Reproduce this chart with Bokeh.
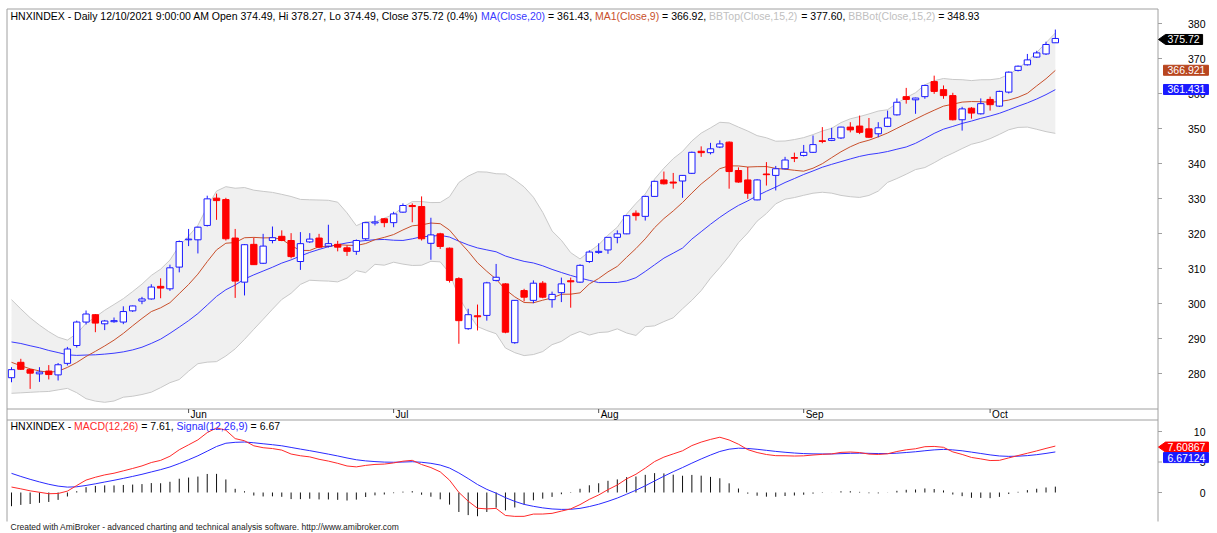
import pandas as pd
from bokeh.plotting import figure
from bokeh.models import Range1d
from bokeh.embed import file_html
from bokeh.resources import INLINE
from bokeh.core.properties import value

# ---------------- data ----------------
opens = [278.8, 283.2, 281.1, 279.9, 280.7, 279.6, 282.9, 288.0, 294.7, 296.8,
         294.2, 294.8, 294.7, 297.9, 300.7, 301.3, 304.9, 304.2, 310.4, 318.2,
         318.2, 322.3, 330.1, 329.7, 318.7, 306.1, 316.9, 311.5, 318.0, 319.2,
         318.0, 312.0, 317.6, 318.7, 316.4, 316.9, 315.9, 314.9, 318.5, 323.0,
         324.2, 323.1, 326.1, 328.0, 327.7, 317.2, 319.9, 315.8, 307.1, 292.8,
         296.5, 296.6, 306.6, 305.6, 288.8, 303.7, 300.9, 305.8, 301.1, 303.1,
         306.5, 306.1, 312.0, 314.6, 315.3, 318.9, 319.9, 325.8, 324.9, 330.6,
         335.3, 334.7, 335.0, 337.2, 343.5, 343.1, 344.7, 346.1, 338.0, 335.3,
         329.6, 337.0, 336.6, 338.5, 341.7, 342.3, 343.2, 346.5, 346.6, 347.3,
         350.4, 350.7, 349.9, 348.5, 350.6, 353.9, 359.1, 358.2, 359.1, 363.4,
         361.1, 359.4, 352.5, 355.8, 354.2, 358.3, 356.4, 360.4, 366.6, 368.2,
         370.4, 371.3, 374.49]
highs = [281.8, 284.2, 281.3, 281.8, 282.4, 283.0, 287.6, 295.1, 298.0, 297.0,
         295.3, 296.0, 299.2, 299.4, 301.9, 305.5, 307.2, 311.1, 318.0, 321.3,
         322.0, 330.8, 331.4, 330.2, 321.3, 317.0, 318.8, 319.9, 322.0, 320.9,
         320.1, 320.4, 320.1, 319.9, 322.5, 317.9, 316.6, 318.3, 323.3, 325.1,
         324.4, 326.2, 328.6, 328.6, 330.6, 324.5, 320.2, 316.0, 307.5, 298.5,
         299.7, 306.2, 311.3, 305.8, 301.0, 304.2, 306.6, 306.4, 303.4, 307.4,
         307.4, 311.2, 315.2, 317.2, 319.0, 320.9, 325.3, 326.6, 330.8, 335.1,
         337.7, 337.3, 336.7, 343.4, 344.9, 345.9, 346.6, 346.3, 338.9, 339.0,
         335.5, 340.4, 339.3, 341.9, 343.1, 345.3, 348.0, 350.4, 350.2, 350.5,
         351.8, 353.7, 353.0, 351.8, 355.1, 358.6, 361.6, 358.8, 362.5, 365.1,
         362.3, 360.2, 356.2, 356.1, 358.6, 359.1, 360.8, 366.3, 368.0, 371.3,
         372.2, 374.8, 378.27]
lows = [277.5, 281.0, 275.6, 277.6, 278.3, 278.0, 282.3, 287.4, 294.0, 291.8,
        292.4, 294.5, 294.1, 297.6, 299.8, 301.1, 301.5, 303.6, 308.9, 316.4,
        314.3, 322.0, 323.9, 318.0, 301.6, 302.3, 311.0, 311.3, 317.2, 317.8,
        312.9, 309.6, 317.3, 315.8, 316.0, 314.9, 313.6, 313.9, 318.0, 322.3,
        321.8, 321.8, 325.9, 323.2, 318.0, 312.5, 315.6, 306.0, 288.5, 292.5,
        292.3, 295.1, 306.3, 291.5, 288.5, 300.6, 300.1, 301.5, 298.8, 300.4,
        298.8, 305.9, 311.6, 314.2, 314.2, 317.2, 319.8, 323.7, 323.7, 330.5,
        334.0, 332.8, 330.2, 337.0, 341.9, 342.6, 344.4, 332.8, 334.5, 329.9,
        329.5, 333.7, 332.3, 338.3, 340.4, 342.0, 343.0, 345.8, 346.4, 347.0,
        348.9, 348.4, 347.3, 347.5, 350.4, 353.7, 357.1, 354.2, 358.5, 359.9,
        358.5, 352.3, 349.4, 352.8, 354.0, 355.1, 356.2, 360.0, 366.3, 368.0,
        370.2, 371.0, 374.49]
closes = [281.1, 281.2, 280.1, 280.4, 279.7, 282.5, 287.0, 294.7, 297.0, 294.4,
          295.0, 295.1, 297.7, 299.3, 301.3, 304.7, 304.4, 310.2, 317.7, 318.4,
          321.8, 329.9, 329.4, 318.5, 306.4, 316.8, 311.1, 316.4, 318.8, 318.0,
          313.4, 317.1, 318.4, 316.1, 317.1, 316.1, 314.9, 318.0, 323.1, 323.3,
          323.1, 325.6, 328.0, 327.7, 318.5, 319.6, 316.3, 306.6, 295.1, 296.8,
          296.2, 305.9, 307.5, 291.8, 300.9, 301.8, 305.8, 301.8, 302.6, 305.6,
          306.2, 310.9, 314.7, 314.9, 318.9, 319.9, 325.1, 325.1, 330.6, 334.9,
          334.2, 334.4, 336.6, 343.2, 343.1, 344.2, 345.6, 337.7, 334.7, 331.5,
          335.3, 336.8, 338.5, 341.0, 341.5, 343.2, 345.4, 346.3, 347.1, 350.4,
          349.6, 348.9, 347.5, 350.2, 353.0, 357.5, 358.3, 358.7, 362.3, 360.6,
          359.4, 352.5, 355.6, 354.4, 357.1, 356.8, 360.6, 366.1, 367.8, 369.6,
          371.6, 374.0, 375.72]
# sessions before the visible window (not drawn), estimated from where the
# MA / Bollinger / MACD lines start at the left edge of the chart
earlier_closes = [256, 258, 257, 260, 262, 261, 264, 266, 265, 268,
                  270, 270, 273, 275, 274, 277, 279, 279, 282, 284,
                  287, 290, 293, 292, 295, 294.5, 300, 298, 295, 293,
                  291, 290, 290, 288, 286, 283, 280, 277, 282, 281.7]

month_bars = [20, 42, 64, 86, 106]
month_labels = ["Jun", "Jul", "Aug", "Sep", "Oct"]
price_ticks = [280, 290, 300, 310, 320, 330, 340, 350, 360, 370, 380]
macd_ticks = [0, 5, 10]
price_tag_values = [375.72, 366.921, 361.431]
price_tag_texts = ["375.72", "366.921", "361.431"]
macd_tag_values = [7.60867, 6.67124]
macd_tag_texts = ["7.60867", "6.67124"]

price_header = [
    ("HNXINDEX - Daily 12/10/2021 9:00:00 AM Open 374.49, Hi 378.27, Lo 374.49, Close 375.72 (0.4%) ", "black"),
    ("MA(Close,20)", "ma20"), (" = 361.43, ", "black"),
    ("MA1(Close,9)", "ma9"), (" = 366.92, ", "black"),
    ("BBTop(Close,15,2)", "bb"), (" = 377.60, ", "black"),
    ("BBBot(Close,15,2)", "bb"), (" = 348.93", "black"),
]
macd_header = [
    ("HNXINDEX - ", "black"), ("MACD(12,26)", "macd"), (" = 7.61, ", "black"),
    ("Signal(12,26,9)", "sig"), (" = 6.67", "black"),
]
footer = "Created with AmiBroker - advanced charting and technical analysis software. http://www.amibroker.com"

# ---------------- indicators (AmiBroker definitions) ----------------
full = pd.Series(earlier_closes + closes, dtype=float)
n0 = len(earlier_closes)
ma20 = full.rolling(20).mean()
ma9 = full.rolling(9).mean()
m15 = full.rolling(15).mean()
sd15 = full.rolling(15).std(ddof=0)
bbt = m15 + 2 * sd15
bbb = m15 - 2 * sd15
ema12 = full.ewm(span=12, adjust=False).mean()
ema26 = full.ewm(span=26, adjust=False).mean()
macd = ema12 - ema26
sig = macd.ewm(span=9, adjust=False).mean()
hist = macd - sig

n = len(closes)
bars = list(range(1, n + 1))


def vis(s):
    return list(s.iloc[n0:].values)


# ---------------- styles / layout (pixel geometry of the AmiBroker window) ----------------
FONT = "Liberation Sans"
FS = "10.5px"
UP = "#1a1aff"
DOWN = "#ff0000"
COL = {"black": "#000000", "ma20": "#3a3aff", "ma9": "#c8502c", "bb": "#c0c0c0",
       "macd": "#ff2a2a", "sig": "#2a2aff"}
BAND_FILL = "#f0f0f0"
BAND_LINE = "#c8c8c8"
FRAME_C = "#a0a0a0"
W, H = 1217, 533
BAR_PX = 9.32      # pixels per session
BAR1_PX = 11.0     # page x of the first session
LEFT, AXIS = 6.5, 1157.5
TOP, STRIP_T, STRIP_B, BOTTOM = 8.5, 408.5, 419.5, 521.0


def bx(px):   # page x -> session number
    return 1 + (px - BAR1_PX) / BAR_PX


def py(y):    # page y -> price (380 at y=23, 3.5 px per point)
    return 380 - (y - 23) / 3.5


def ypx(v):   # price -> page y
    return 23 + (380 - v) * 3.5


def my(y):    # page y -> MACD value (0 at y=492, 6.1 px per unit)
    return (492 - y) / 6.1


def mpx(v):
    return 492 - v * 6.1


AW = {' ': 278, '-': 333, '/': 278, ':': 278, '.': 278, ',': 278, '(': 333, ')': 333,
      '%': 889, '=': 584, 'A': 667, 'B': 667, 'C': 722, 'D': 722, 'E': 667, 'H': 722,
      'I': 278, 'L': 556, 'M': 833, 'N': 722, 'O': 778, 'S': 667, 'T': 611, 'X': 667,
      'a': 556, 'c': 500, 'e': 556, 'g': 556, 'i': 222, 'l': 222, 'n': 556, 'o': 556,
      'p': 556, 's': 500, 't': 278, 'y': 500}


def tw(s, fs=10.5):
    return sum(AW.get(ch, 556) for ch in s) * fs / 1000.0


p = figure(width=W, height=H, x_range=Range1d(bx(0), bx(W)), y_range=Range1d(py(H), py(0)),
           output_backend="svg", toolbar_location=None, x_axis_location=None,
           y_axis_location=None, min_border=0, min_border_left=0, min_border_right=0,
           min_border_top=0, min_border_bottom=0)
p.extra_y_ranges = {"macd": Range1d(my(H), my(0))}
p.grid.visible = False
p.outline_line_color = None
p.background_fill_color = "white"
p.border_fill_color = "white"


def ptext(xs_px, ys_px, texts, color="black", align="left", size=FS):
    p.text(x=[bx(v) for v in xs_px], y=[py(v) for v in ys_px], text=texts,
           text_font=value(FONT), text_font_size=value(size), text_color=color,
           text_align=align, text_baseline="middle")


def hline(y, x0=LEFT, x1=AXIS):
    p.segment(x0=[bx(x0)], y0=[py(y)], x1=[bx(x1)], y1=[py(y)], line_color=FRAME_C, line_width=1)


def vline(x, y0, y1):
    p.segment(x0=[bx(x)], y0=[py(y0)], x1=[bx(x)], y1=[py(y1)], line_color=FRAME_C, line_width=1)


# ---- price pane ----
p.varea(x=bars, y1=vis(bbb), y2=vis(bbt), fill_color=BAND_FILL)
p.line(bars, vis(bbt), line_color=BAND_LINE, line_width=1)
p.line(bars, vis(bbb), line_color=BAND_LINE, line_width=1)
p.line(bars, vis(ma20), line_color=COL["ma20"], line_width=1)
p.line(bars, vis(ma9), line_color=COL["ma9"], line_width=1)

up = [c >= o for o, c in zip(opens, closes)]
p.segment(x0=bars, y0=lows, x1=bars, y1=highs,
          line_color=[UP if u else DOWN for u in up], line_width=1)
p.vbar(x=bars, width=0.68, top=[max(o, c) for o, c in zip(opens, closes)],
       bottom=[min(o, c) for o, c in zip(opens, closes)],
       fill_color=["white" if u else DOWN for u in up],
       line_color=[UP if u else DOWN for u in up], line_width=1)

# ---- MACD pane ----
p.segment(x0=bars, y0=[0] * n, x1=bars, y1=vis(hist), line_color="#111111", line_width=1,
          y_range_name="macd")
p.line(bars, vis(sig), line_color=COL["sig"], line_width=1, y_range_name="macd")
p.line(bars, vis(macd), line_color=COL["macd"], line_width=1, y_range_name="macd")

# ---- frame lines ----
hline(TOP)
hline(STRIP_T)
hline(STRIP_B)
vline(LEFT, TOP, BOTTOM)
vline(AXIS, TOP, BOTTOM)

# ---- date strip ----
p.segment(x0=month_bars, y0=[py(STRIP_T)] * len(month_bars), x1=month_bars,
          y1=[py(STRIP_T + 4)] * len(month_bars), line_color="#555555", line_width=1)
p.text(x=month_bars, y=[py(414)] * len(month_bars), text=month_labels, x_offset=2,
       text_font=value(FONT), text_font_size=value("10px"), text_color="black",
       text_align="left", text_baseline="middle")

# ---- right axes ----
p.segment(x0=[bx(AXIS)] * len(price_ticks), y0=price_ticks, x1=[bx(AXIS + 4)] * len(price_ticks),
          y1=price_ticks, line_color=FRAME_C, line_width=1)
p.text(x=[bx(1205)] * len(price_ticks), y=price_ticks, text=[str(t) for t in price_ticks],
       text_font=value(FONT), text_font_size=value(FS), text_color="black",
       text_align="right", text_baseline="middle")
p.segment(x0=[bx(AXIS)] * len(macd_ticks), y0=macd_ticks, x1=[bx(AXIS + 4)] * len(macd_ticks),
          y1=macd_ticks, line_color=FRAME_C, line_width=1, y_range_name="macd")
p.text(x=[bx(1205)] * len(macd_ticks), y=macd_ticks, text=[str(t) for t in macd_ticks],
       text_font=value(FONT), text_font_size=value(FS), text_color="black",
       text_align="right", text_baseline="middle", y_range_name="macd")

# ---- headers ----
def add_segments(segs, x0, ypage):
    x = x0
    for txt, ck in segs:
        lead = len(txt) - len(txt.lstrip(' '))
        ptext([x + tw(' ' * lead)], [ypage], [txt.strip()], color=COL[ck])
        x += tw(txt)


add_segments(price_header, 10, 15)
add_segments(macd_header, 10, 425.7)
ptext([10], [526.5], [footer], color="#222222", size="8.5px")


# ---- value tags on the right axis ----
def add_tags(values, texts, colors, arrows, to_px):
    prev = None
    for v, t, c, arrow in zip(values, texts, colors, arrows):
        yc = to_px(v) + 1
        if prev is not None and yc - prev < 10.5:
            yc = prev + 10.5
        prev = yc
        right = 1167 + tw(t) + 3
        if arrow:
            xs_px = [1158, 1165, right, right, 1165]
            ys_px = [yc, yc - 5, yc - 5, yc + 5, yc + 5]
        else:
            xs_px = [1163, right, right, 1163]
            ys_px = [yc - 5, yc - 5, yc + 5, yc + 5]
        p.patch(x=[bx(v2) for v2 in xs_px], y=[py(v2) for v2 in ys_px], fill_color=c,
                line_color=c, line_width=1)
        ptext([1167], [yc], [t], color="white")


add_tags(price_tag_values, price_tag_texts, ["#000000", "#b8461f", "#1a1aff"],
         [True, False, False], ypx)
add_tags(macd_tag_values, macd_tag_texts, ["#ff0000", "#1a1aff"], [True, False], mpx)

open("out.html", "w").write(file_html(p, INLINE))
